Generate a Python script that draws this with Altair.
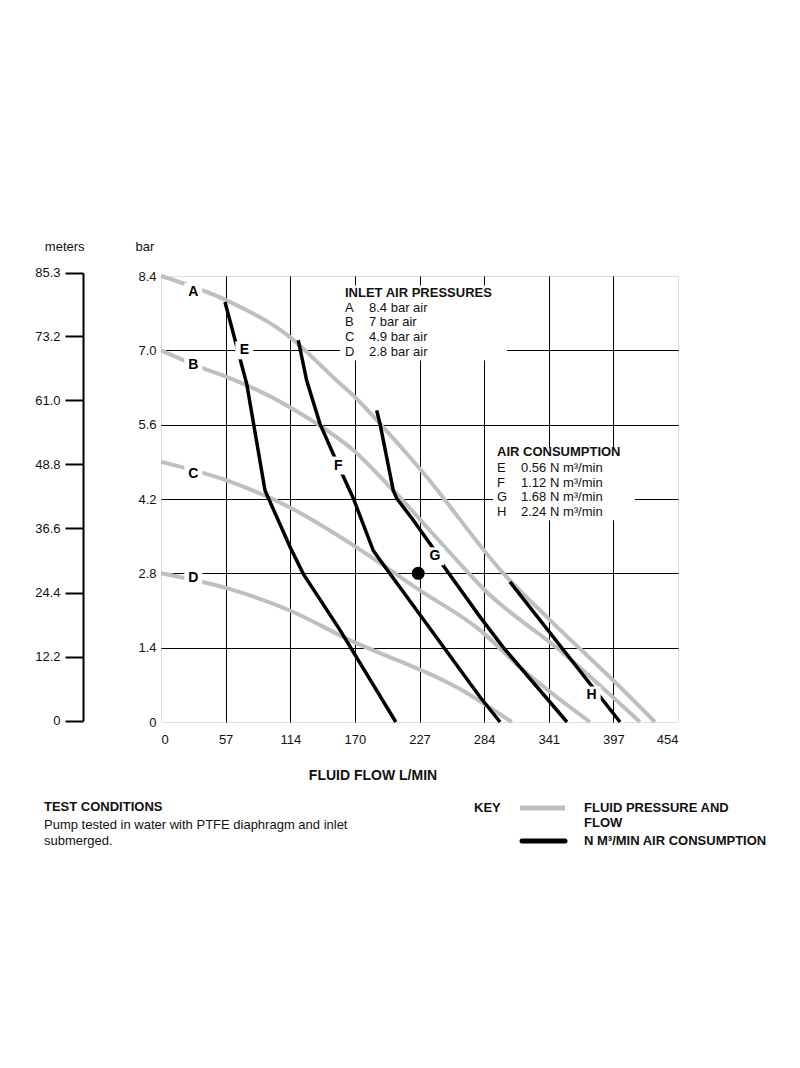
import json
import altair as alt
import pandas as pd

FONT = "Liberation Sans"
GRAY = "#bfbfbf"

# ---------------- axis ticks / labels ----------------
flow_ticks = [0, 56.78, 113.56, 170.34, 227.12, 283.9, 340.68, 397.46, 454.24]
flow_labels = ["0", "57", "114", "170", "227", "284", "341", "397", "454"]
bar_ticks = [0, 1.4, 2.8, 4.2, 5.6, 7.0, 8.4]
bar_labels = ["0", "1.4", "2.8", "4.2", "5.6", "7.0", "8.4"]
meter_ticks = [0, 12.2, 24.4, 36.6, 48.8, 61.0, 73.2, 85.3]
meter_labels = ["0", "12.2", "24.4", "36.6", "48.8", "61.0", "73.2", "85.3"]

# ---------------- fluid pressure curves (gray) ----------------
A_flow = [0, 57.7, 113.3, 154.4, 169.0, 192.4, 230.2, 300.8, 341.8, 400.4, 434.0]
A_bar = [8.4, 7.94, 7.25, 6.43, 6.15, 5.62, 4.70, 2.80, 1.92, 0.72, 0]
B_flow = [0, 37.2, 57.7, 113.3, 136.8, 169.0, 204.1, 259.8, 283.2, 350.5, 420.8]
B_bar = [7.0, 6.66, 6.50, 5.93, 5.62, 5.12, 4.36, 3.05, 2.51, 1.35, 0]
C_flow = [0, 57.7, 113.3, 166.0, 227.5, 280.3, 315.4, 376.9]
C_bar = [4.9, 4.55, 4.04, 3.37, 2.48, 1.73, 1.03, 0]
D_flow = [0, 57.7, 113.3, 163.1, 262.7, 308.1]
D_bar = [2.8, 2.52, 2.10, 1.57, 0.62, 0]

# ---------------- air consumption curves (black) ----------------
E_flow = [56.2, 75.3, 91.4, 113.3, 125.0, 157.3, 206.3]
E_bar = [7.91, 6.37, 4.36, 3.30, 2.79, 1.73, 0]
F_flow = [120.6, 128.0, 139.6, 155.8, 169.0, 186.5, 192.4, 280.3, 297.9]
F_bar = [7.19, 6.43, 5.62, 4.83, 4.21, 3.23, 3.05, 0.47, 0]
G_flow = [189.5, 192.4, 204.1, 207.1, 221.7, 239.3, 247.8, 280.3, 300.5, 356.7]
G_bar = [5.87, 5.62, 4.36, 4.21, 3.80, 3.27, 2.95, 1.98, 1.41, 0]
H_flow = [306.6, 403.3]
H_bar = [2.64, 0]

# curve letters and where they sit
curve_letters = ["A", "B", "C", "D", "E", "F", "G", "H"]
letter_flow = [28.4, 28.4, 28.4, 28.4, 73.2, 155.8, 240.7, 378.4]
letter_bar = [8.10, 6.72, 4.68, 2.72, 7.0, 4.83, 3.12, 0.50]

# operating point
point_flow = [226.0]
point_bar = [2.8]

# white legend boxes (flow from/to, bar from/to)
box_flow1 = [157.3, 291.7]
box_flow2 = [304.0, 416.4]
box_bar1 = [6.81, 3.80]
box_bar2 = [8.22, 5.17]

inlet_letters = ["A", "B", "C", "D"]
inlet_texts = ["8.4 bar air", "7 bar air", "4.9 bar air", "2.8 bar air"]
air_letters = ["E", "F", "G", "H"]
air_texts = ["0.56 N m³/min", "1.12 N m³/min", "1.68 N m³/min", "2.24 N m³/min"]


def build(curves):
    rows = []
    for name, xs, ys in curves:
        for i, (x, y) in enumerate(zip(xs, ys)):
            rows.append({"curve": name, "flow": x, "bar": y, "i": i})
    return pd.DataFrame(rows)


gray_df = build([("A", A_flow, A_bar), ("B", B_flow, B_bar),
                 ("C", C_flow, C_bar), ("D", D_flow, D_bar)])
black_df = build([("E", E_flow, E_bar), ("F", F_flow, F_bar),
                  ("G", G_flow, G_bar), ("H", H_flow, H_bar)])
letters_df = pd.DataFrame({"t": curve_letters, "flow": letter_flow, "bar": letter_bar})
point_df = pd.DataFrame({"flow": point_flow, "bar": point_bar})
box_df = pd.DataFrame({"f1": box_flow1, "f2": box_flow2, "b1": box_bar1, "b2": box_bar2})


def lab_expr(vals, labs):
    return f"{json.dumps(labs)}[indexof({json.dumps(vals)}, datum.value)]"


x_scale = alt.Scale(domain=[0, 454.24], nice=False, zero=False)
y_scale = alt.Scale(domain=[0, 8.4], nice=False, zero=False)

x_axis = alt.Axis(values=flow_ticks, labelExpr=lab_expr(flow_ticks, flow_labels),
                  ticks=False, domain=False, labelPadding=11, title=None,
                  grid=True, gridColor="black", gridWidth=1,
                  gridOpacity={"condition": {"test": "datum.value <= 0 || datum.value >= 454",
                                             "value": 0}, "value": 1},
                  labelFont=FONT, labelFontSize=13, labelColor="#111")
y_axis = alt.Axis(values=bar_ticks, labelExpr=lab_expr(bar_ticks, bar_labels),
                  ticks=False, domain=False, labelPadding=5, title=None,
                  grid=True, gridColor="black", gridWidth=1,
                  gridOpacity={"condition": {"test": "datum.value <= 0 || datum.value >= 8.4",
                                             "value": 0}, "value": 1},
                  labelFont=FONT, labelFontSize=13, labelColor="#111")

X = lambda: alt.X("flow:Q", scale=x_scale, axis=x_axis)
Y = lambda: alt.Y("bar:Q", scale=y_scale, axis=y_axis)

boxes = alt.Chart(box_df).mark_rect(color="white", opacity=1).encode(
    x=alt.X("f1:Q", scale=x_scale, axis=x_axis), x2="f2:Q",
    y=alt.Y("b1:Q", scale=y_scale, axis=y_axis), y2="b2:Q")

gray_lines = alt.Chart(gray_df).mark_line(color=GRAY, strokeWidth=4, interpolate="monotone").encode(
    x=X(), y=Y(), detail="curve:N", order="i:Q")

black_lines = alt.Chart(black_df).mark_line(color="black", strokeWidth=3.5).encode(
    x=X(), y=Y(), detail="curve:N", order="i:Q")

letter_bg = alt.Chart(letters_df).mark_square(color="white", opacity=1, size=324).encode(
    x=X(), y=Y())
letters = alt.Chart(letters_df).mark_text(font=FONT, fontSize=14, fontWeight="bold",
                                          color="black", baseline="middle").encode(
    x=X(), y=Y(), text="t:N")

dot = alt.Chart(point_df).mark_circle(color="black", opacity=1, size=170).encode(x=X(), y=Y())


def txt(s, x, y, bold=False, align="left", size=13):
    return alt.Chart(alt.Data(values=[{"t": s}])).mark_text(
        font=FONT, fontSize=size, fontWeight="bold" if bold else "normal",
        align=align, baseline="middle", color="#111"
    ).encode(x=alt.value(x), y=alt.value(y), text="t:N")


def hline(x1, x2, y, color, width, cap="butt"):
    return alt.Chart(alt.Data(values=[{}])).mark_rule(
        color=color, strokeWidth=width, strokeCap=cap
    ).encode(x=alt.value(x1), x2=alt.value(x2), y=alt.value(y))


texts = []
# inlet air pressures legend
texts.append(txt("INLET AIR PRESSURES", 184, 16.7, bold=True))
for k, (l, s) in enumerate(zip(inlet_letters, inlet_texts)):
    yy = 31.7 + k * 14.6
    texts.append(txt(l, 184, yy))
    texts.append(txt(s, 208, yy))
# air consumption legend
texts.append(txt("AIR CONSUMPTION", 336, 176.3, bold=True))
for k, (l, s) in enumerate(zip(air_letters, air_texts)):
    yy = 191.7 + k * 14.8
    texts.append(txt(l, 336, yy))
    texts.append(txt(s, 360, yy))
# axis titles
texts.append(txt("meters", -96.3, -29.3, align="center"))
texts.append(txt("bar", -16, -29.3, align="center"))
texts.append(txt("FLUID FLOW L/MIN", 212, 500, bold=True, align="center", size=14))
# test conditions
texts.append(txt("TEST CONDITIONS", -117, 531, bold=True))
texts.append(txt("Pump tested in water with PTFE diaphragm and inlet", -117, 549))
texts.append(txt("submerged.", -117, 565))
# key
texts.append(txt("KEY", 313, 532, bold=True))
texts.append(hline(359, 404, 532, GRAY, 5))
texts.append(hline(361, 404, 565, "black", 5, cap="round"))
texts.append(txt("FLUID PRESSURE AND", 423, 532, bold=True))
texts.append(txt("FLOW", 423, 547, bold=True))
texts.append(txt("N M³/MIN AIR CONSUMPTION", 423, 565, bold=True))

inner = alt.layer(boxes, gray_lines, black_lines, letter_bg, letters, dot, *texts)

meters_layer = alt.Chart(pd.DataFrame({"m": meter_ticks})).mark_point(opacity=0).encode(
    y=alt.Y("m:Q",
            scale=alt.Scale(domain=[0, 85.3], range=[444.7, -3.3], nice=False, zero=False),
            axis=alt.Axis(orient="left", offset=78, values=meter_ticks,
                          labelExpr=lab_expr(meter_ticks, meter_labels),
                          tickSize=18, tickWidth=2, tickColor="black",
                          domain=True, domainColor="black", domainWidth=2,
                          labelPadding=5, grid=False, title=None,
                          labelFont=FONT, labelFontSize=13, labelColor="#111"))
)

chart = alt.layer(inner, meters_layer).resolve_scale(y="independent").properties(
    width=517, height=446,
    autosize=alt.AutoSizeParams(type="none"),
    padding={"left": 153, "top": 268, "right": 110, "bottom": 150},
).configure_view(stroke="#999", strokeWidth=2).configure(font=FONT, background="white")

chart.save("out.html", embed_options={"renderer": "svg", "actions": False})
